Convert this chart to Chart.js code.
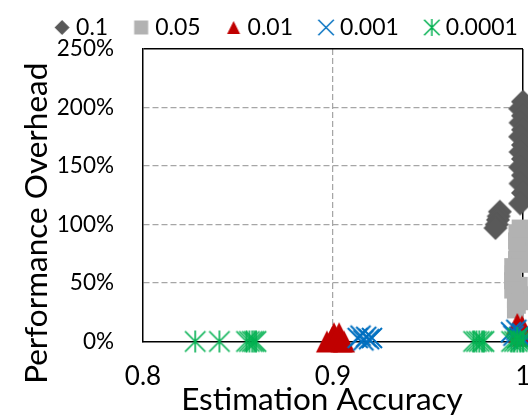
<!DOCTYPE html>
<html>
<head>
<meta charset="utf-8">
<script src="https://cdn.jsdelivr.net/npm/chart.js@4.4.1/dist/chart.umd.min.js"></script>
<style>
  html, body { margin: 0; padding: 0; overflow: hidden; background: #fff; }
</style>
</head>
<body>
<canvas id="chart" width="568" height="415"></canvas>
<script>
const seriesLabels = ['0.1', '0.05', '0.01', '0.001', '0.0001'];
const seriesColors = ['#595959', '#b2b2b2', '#c00000', '#0070c0', '#00b050'];
const xTitle = 'Estimation Accuracy';
const yTitle = 'Performance Overhead';
const xMin = 0.8, xMax = 1.0, xStep = 0.1;
const yMin = 0, yMax = 250, yStep = 50;

// estimation accuracy (x) and overhead in % (y), one pair of arrays per threshold
const acc01 = [1.0, 0.9985, 1.0, 0.9987, 1.0, 0.9985, 1.0, 0.9987, 1.0, 0.9985, 1.0, 0.9987, 1.0, 0.9985,
  0.9878, 0.9872, 0.9868, 0.9862, 0.9855];
const ovh01 = [205, 199, 193, 187, 181, 175, 168, 162, 156, 149, 142, 135, 127, 118,
  111, 107, 104, 100, 97];

const acc005 = [0.9985, 0.9968, 1.0, 0.9966, 0.9985, 0.9968, 1.0, 0.9966, 0.9982, 0.9946,
  0.9948, 0.9945, 0.998, 0.9946, 0.9985, 0.996, 0.997, 0.996, 0.9985];
const ovh005 = [97, 93, 89, 86, 82, 78, 74, 70, 66, 64, 58, 52, 48, 44, 40, 36, 31, 27, 34];

const acc001 = [0.8968, 0.8995, 0.9005, 0.9032, 0.902, 0.9045, 0.9058, 0.997, 0.9995, 0.998, 1.0];
const ovh001 = [0, 3, 7, 7, 2, 0, 0, 15, 13, 8, 5];

const acc0001 = [0.913, 0.9145, 0.916, 0.9175, 0.919, 0.9205, 0.9937, 0.995, 0.9965, 0.998, 0.9995, 1.0];
const ovh0001 = [3, 5, 1, 4, 2, 3, 8, 5, 10, 4, 7, 2];

const acc00001 = [0.8275, 0.8402, 0.8545, 0.856, 0.8575, 0.8585, 0.8595, 0.974, 0.9755, 0.977, 0.9785,
  0.9795, 0.994, 0.9955, 0.997, 0.9985, 1.0, 0.997];
const ovh00001 = [0, 0, 0, 0, 0, 0, 0, 0, 0, 0, 0, 0, 0, 0, 0, 0, 0, 3];

const accs = [acc01, acc005, acc001, acc0001, acc00001];
const ovhs = [ovh01, ovh005, ovh001, ovh0001, ovh00001];
const shapes = ['diamond', 'square', 'triangle', 'cross', 'star'];

// excel-like markers drawn on small canvases (shift moves the mark inside the image)
function marker(shape, size, color, lw, shift) {
  shift = shift || 0;
  const c = document.createElement('canvas');
  c.width = Math.ceil(size + 4 + Math.abs(shift) * 2);
  c.height = Math.ceil(size + 4);
  const g = c.getContext('2d');
  const cx = c.width / 2 + shift, cy = c.height / 2, r = size / 2;
  g.fillStyle = color;
  g.strokeStyle = color;
  g.lineWidth = lw;
  g.beginPath();
  if (shape === 'diamond') {
    g.moveTo(cx, cy - r); g.lineTo(cx + r, cy); g.lineTo(cx, cy + r); g.lineTo(cx - r, cy);
    g.closePath(); g.fill();
  } else if (shape === 'square') {
    g.fillRect(cx - r, cy - r, size, size);
  } else if (shape === 'triangle') {
    g.moveTo(cx, cy - r); g.lineTo(cx + r, cy + r); g.lineTo(cx - r, cy + r);
    g.closePath(); g.fill();
  } else {
    const d = r - lw / 2;
    g.moveTo(cx - d, cy - d); g.lineTo(cx + d, cy + d);
    g.moveTo(cx + d, cy - d); g.lineTo(cx - d, cy + d);
    if (shape === 'star') { g.moveTo(cx, cy - r); g.lineTo(cx, cy + r); }
    g.stroke();
  }
  return c;
}

const dataSizes = { diamond: 24, square: 17, triangle: 22, cross: 22, star: 22 };
const legendSizes = { diamond: 15, square: 14, triangle: 13, cross: 17, star: 17 };
const legendShift = 14.25;

const datasets = seriesLabels.map((label, i) => ({
  label: label,
  data: accs[i].map((x, j) => ({ x: x, y: ovhs[i][j] })),
  pointStyle: marker(shapes[i], dataSizes[shapes[i]], seriesColors[i], shapes[i] === 'star' ? 1.6 : 2),
  pointRadius: 10,
  pointHoverRadius: 10,
  backgroundColor: seriesColors[i],
  borderColor: seriesColors[i],
  clip: false,
  order: seriesLabels.length - i
}));

const legendMarks = shapes.map((s, i) => marker(s, legendSizes[s], seriesColors[i], 1.5, legendShift));

const isAt = (c, v) => c.tick && Math.abs(c.tick.value - v) < 1e-9;

const axisTitles = {
  id: 'axisTitles',
  afterDraw(chart) {
    const a = chart.chartArea;
    const ctx = chart.ctx;
    ctx.save();
    ctx.fillStyle = '#000';
    ctx.font = '31.5px Lato';
    ctx.textAlign = 'center';
    ctx.textBaseline = 'alphabetic';
    ctx.fillText(xTitle, (a.left + a.right) / 2 - 11, 410);
    ctx.translate(47, (a.top + a.bottom) / 2 + 28);
    ctx.rotate(-Math.PI / 2);
    ctx.fillText(yTitle, 0, 0);
    ctx.restore();
  }
};

new Chart(document.getElementById('chart'), {
  type: 'scatter',
  data: { datasets: datasets },
  plugins: [axisTitles],
  options: {
    responsive: false,
    animation: false,
    events: [],
    layout: { padding: { left: 10, right: 29, top: 7.5, bottom: 0 } },
    plugins: {
      tooltip: { enabled: false },
      legend: {
        position: 'top',
        labels: {
          usePointStyle: true,
          pointStyleWidth: 33.5,
          padding: 2,
          color: '#000',
          font: { family: 'Lato', size: 23 },
          generateLabels: () => seriesLabels.map((label, i) => ({
            text: label,
            datasetIndex: i,
            pointStyle: legendMarks[i],
            fillStyle: seriesColors[i],
            strokeStyle: seriesColors[i],
            lineWidth: 0,
            hidden: false,
            fontColor: '#000'
          }))
        }
      }
    },
    scales: {
      x: {
        type: 'linear',
        min: xMin,
        max: xMax,
        afterFit: s => { s.height = 73.5; },
        ticks: {
          stepSize: xStep,
          padding: 20,
          color: '#000',
          font: { family: 'Lato', size: 26 },
          callback: v => String(Number(v.toFixed(2)))
        },
        grid: {
          drawTicks: false,
          color: c => isAt(c, xMax) ? '#000' : (isAt(c, xMin) ? 'rgba(0,0,0,0)' : '#a6a6a6'),
          lineWidth: c => isAt(c, xMax) ? 1.5 : 1.25
        },
        border: {
          color: '#000',
          width: 1.5,
          dash: c => isAt(c, xMax) ? [] : [6, 3]
        }
      },
      y: {
        min: yMin,
        max: yMax,
        afterFit: s => { s.width = 133; s.paddingTop = 49; },
        ticks: {
          stepSize: yStep,
          padding: 29,
          color: '#000',
          font: { family: 'Lato', size: 22.5 },
          callback: v => v + '%'
        },
        grid: {
          drawTicks: false,
          color: c => isAt(c, yMax) ? '#000' : (isAt(c, yMin) ? 'rgba(0,0,0,0)' : '#a6a6a6'),
          lineWidth: c => isAt(c, yMax) ? 1.5 : 1.25
        },
        border: {
          color: '#000',
          width: 1.5,
          dash: c => isAt(c, yMax) ? [] : [6, 3]
        }
      },
      // empty strip on the right, beyond the cropped edge of the figure
      yRight: {
        position: 'right',
        afterFit: s => { s.width = 16; },
        ticks: { display: false },
        grid: { display: false },
        border: { display: false }
      }
    }
  }
});
</script>
</body>
</html>
